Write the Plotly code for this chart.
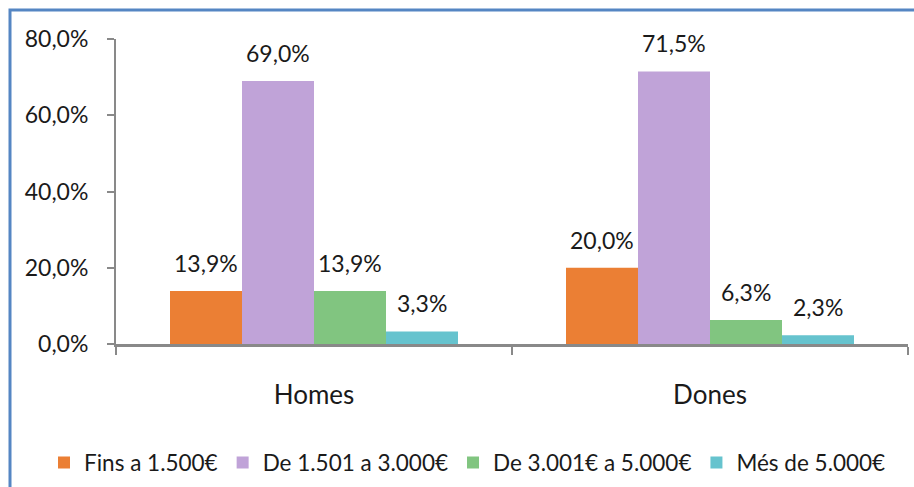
import plotly.graph_objects as go

# data
categories = ["Homes", "Dones"]
series_names = ["Fins a 1.500€", "De 1.501 a 3.000€", "De 3.001€ a 5.000€", "Més de 5.000€"]
fins_1500 = [13.9, 20.0]
de_1501_3000 = [69.0, 71.5]
de_3001_5000 = [13.9, 6.3]
mes_5000 = [3.3, 2.3]
y_tick_values = [0, 20, 40, 60, 80]
y_tick_labels = ["0,0%", "20,0%", "40,0%", "60,0%", "80,0%"]

series_values = [fins_1500, de_1501_3000, de_3001_5000, mes_5000]
colors = ["#EB7F34", "#C0A3D8", "#81C580", "#66C3CE"]

FONT = "Lato"
TEXT = "#1a1a1a"
AXIS = "#898989"

W, H = 914, 487
ML, MR, MT, MB = 116, 6, 39, 143

gap_width = 1.5  # excel style gap width (150%)
bargap = gap_width / (gap_width + len(series_names))
bar_w = (1 - bargap) / len(series_names)


def pct(v):
    return f"{v:.1f}%".replace(".", ",")


fig = go.Figure()
for name, vals, col in zip(series_names, series_values, colors):
    fig.add_trace(go.Bar(x=categories, y=vals, name=name, marker=dict(color=col, line=dict(width=0))))

# data labels, sitting well above each bar like the excel original
for si, vals in enumerate(series_values):
    for ci, v in enumerate(vals):
        fig.add_annotation(
            x=ci + (si - (len(series_names) - 1) / 2) * bar_w, y=v,
            text=pct(v), showarrow=False, yshift=28,
            font=dict(family=FONT, size=23, color=TEXT),
        )

# blue outer frame (runs off the right and bottom edges)
pw, ph = W - ML - MR, H - MT - MB
fig.add_shape(
    type="rect", xref="paper", yref="paper",
    x0=(10 - ML) / pw, x1=(W + 10 - ML) / pw,
    y0=1 - (H + 10 - MT) / ph, y1=1 + (MT - 10) / ph,
    line=dict(color="#5586C3", width=3), fillcolor="rgba(0,0,0,0)",
)

fig.update_layout(
    width=W, height=H,
    margin=dict(l=ML, r=MR, t=MT, b=MB, autoexpand=False),
    paper_bgcolor="white", plot_bgcolor="white",
    barmode="group", bargap=bargap, bargroupgap=0,
    font=dict(family=FONT, size=23, color=TEXT),
    showlegend=True,
    legend=dict(
        orientation="h", x=(44 - ML) / pw, xanchor="left", y=-0.39, yanchor="middle",
        font=dict(family=FONT, size=22.5, color=TEXT),
        itemwidth=30, traceorder="normal", bgcolor="rgba(0,0,0,0)",
    ),
    xaxis=dict(
        showline=True, linecolor=AXIS, linewidth=3,
        ticks="outside", tickson="boundaries", ticklen=8, tickwidth=2, tickcolor=AXIS,
        ticklabelstandoff=26, showgrid=False, zeroline=False,
        tickfont=dict(size=26),
    ),
    yaxis=dict(
        range=[0, 80], tickvals=y_tick_values, ticktext=y_tick_labels,
        showline=True, linecolor=AXIS, linewidth=2,
        ticks="outside", ticklen=7, tickwidth=2, tickcolor=AXIS,
        ticklabelstandoff=14, showgrid=False, zeroline=False,
    ),
)

# drop the default page margin so the figure sits at the window's corner
fig.write_html(
    "out.html",
    config={"displayModeBar": False},
    post_script="document.body.style.margin='0';document.body.style.overflow='hidden';",
)
